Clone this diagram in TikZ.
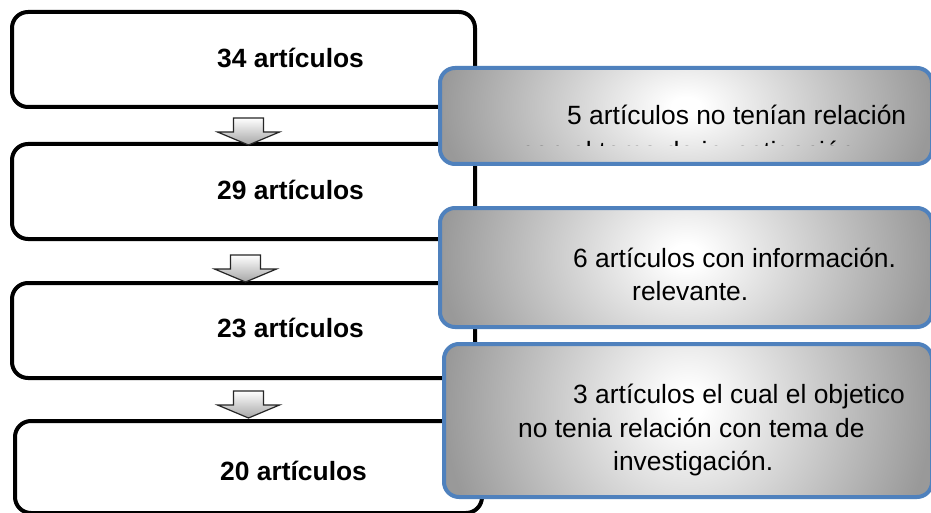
\documentclass[tikz,border=0pt]{standalone}
\usepackage{fontspec}
\setmainfont{Liberation Sans}
\usetikzlibrary{calc}
\definecolor{boxblue}{HTML}{4F81BD}
\pgfdeclareradialshading{grayglow}{\pgfpoint{0bp}{0bp}}{color(0bp)=(white); color(1.5bp)=(white); color(25bp)=(black!40); color(50bp)=(black!40)}
\tikzset{
  lbox/.style={draw=black, line width=4pt, rounded corners=16pt, fill=white, inner sep=0pt, anchor=north west},
  gbox/.style={draw=boxblue, line width=4pt, rounded corners=15pt, inner sep=0pt, anchor=north west,
    path picture={
      \fill[black!40] (path picture bounding box.south west) rectangle (path picture bounding box.north east);
      \path let \p1=(path picture bounding box.north east), \p2=(path picture bounding box.south west) in
        coordinate (glowc) at ($(path picture bounding box.north)!0.4!(path picture bounding box.south)$)
        [shading=grayglow] (glowc) ellipse [x radius={abs(\x1-\x2)/2}, y radius={1.6*abs(\y1-\y2)}];
    }},
  ltext/.style={anchor=base west, inner sep=0pt, font=\fontsize{26.4}{33}\selectfont\bfseries},
  gtext/.style={anchor=base west, inner sep=0pt, font=\fontsize{26.4}{33}\selectfont},
  barrow/.style={draw=black!85, line width=1.2pt, line join=miter, top color=white, bottom color=black!35}
}
\newcommand{\blockarrowat}[1]{%
  \path[barrow] (#1) -- ++(-31,-13) -- ++(16,0) -- ++(0,-14) -- ++(30,0) -- ++(0,14) -- ++(16,0) -- cycle;}
\begin{document}
\begin{tikzpicture}[x=1pt,y=-1pt]
\useasboundingbox (0,0) rectangle (931,513);
\fill[white] (0,0) rectangle (931,513);
% left boxes
\node[lbox, minimum width=463pt, minimum height=95pt] (b1) at (10,10) {};
\node[lbox, minimum width=463pt, minimum height=95pt] (b2) at (10,142) {};
\node[lbox, minimum width=463pt, minimum height=95pt] (b3) at (10,281) {};
\node[lbox, minimum width=467pt, minimum height=92pt] (b4) at (13,419) {};
\node[ltext] (t1) at (217,68) {34 artículos};
\node[ltext] (t2) at (217,200) {29 artículos};
\node[ltext] (t3) at (217,337) {23 artículos};
\node[ltext] (t4) at (220,480) {20 artículos};
% block arrows between boxes
\coordinate (a1) at ([xshift=5pt]b2.north);
\coordinate (a2) at ([xshift=2pt]b3.north);
\coordinate (a3) at ([xshift=0pt]b4.north);
\blockarrowat{$(a1)+(0,3)$}
\blockarrowat{$(a2)+(0,1)$}
\blockarrowat{$(a3)+(0,-1)$}
% gray boxes
\node[gbox, minimum width=492pt, minimum height=96pt] (g1) at (438,66) {};
\node[gbox, minimum width=492pt, minimum height=119pt] (g2) at (438,206) {};
\node[gbox, minimum width=488pt, minimum height=153pt] (g3) at (442,342) {};
\node[gtext] (s1) at (567,125) {5 artículos no tenían relación};
\begin{scope}
  \clip (440,60) rectangle (931,145.5);
  \node[gtext] (s1b) at (521,161) {con el tema de investigación};
\end{scope}
\node[gtext] (s2) at (573,267) {6 artículos con información.};
\node[gtext] (s2b) at (632,300) {relevante.};
\node[gtext] (s3) at (573,403) {3 artículos el cual el objetico};
\node[gtext] (s3b) at (518,437) {no tenia relación con tema de};
\node[gtext] (s3c) at (613,470) {investigación.};
\end{tikzpicture}
\end{document}
